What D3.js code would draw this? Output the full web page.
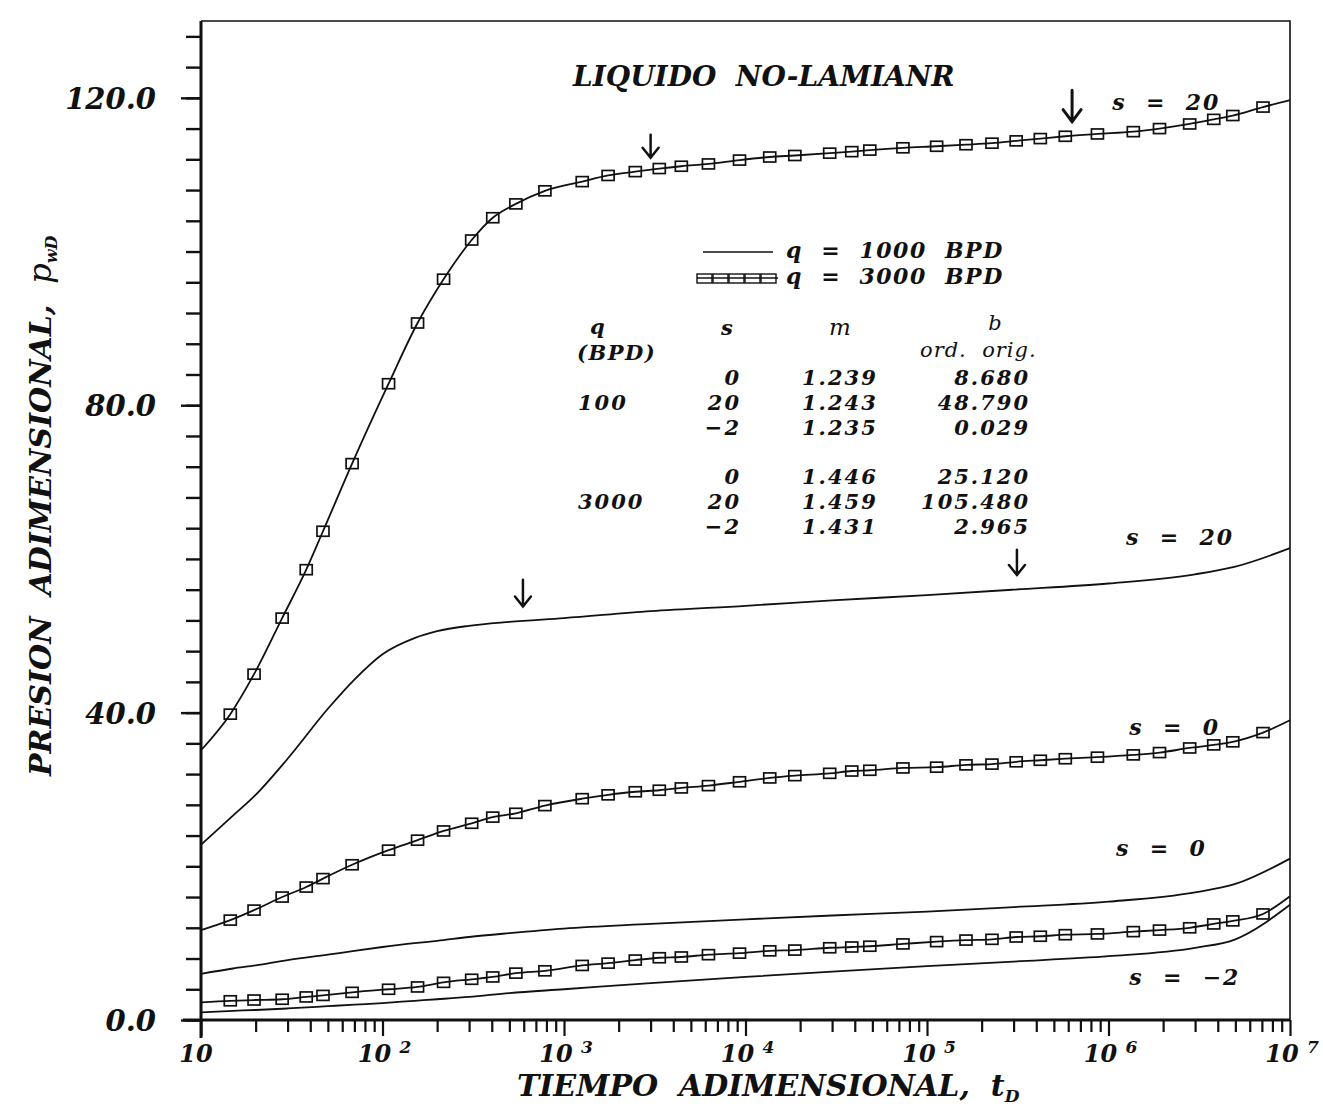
<!DOCTYPE html>
<html>
<head>
<meta charset="utf-8">
<script src="https://cdn.jsdelivr.net/npm/d3@7"></script>
<style>
  body { margin: 0; background: #fff; }
  svg text { font-family: "DejaVu Serif", "Liberation Serif", serif; font-style: italic; font-weight: bold; fill: #111; white-space: pre; }
</style>
</head>
<body>
<svg id="chart" width="1323" height="1106"></svg>
<script>
// Dimensionless time sampling for the q = 1000 BPD solid curves
const lineT = [10, 15, 20, 30, 50, 70, 100, 150, 200, 300, 500, 1e3, 3e3, 1e4, 3e4, 1e5, 3e5, 1e6, 3e6, 5e6, 1e7];
const q1000s20 = [22.8, 26.6, 29.3, 34.0, 40.5, 44.3, 47.6, 49.7, 50.6, 51.3, 51.8, 52.3, 53.2, 53.9, 54.6, 55.3, 56.0, 56.8, 58.0, 59.0, 61.4];
const q1000s0  = [6.0, 6.7, 7.1, 7.8, 8.5, 9.0, 9.5, 10.0, 10.3, 10.8, 11.3, 11.9, 12.5, 13.1, 13.6, 14.1, 14.7, 15.4, 16.6, 17.7, 21.0];
const q1000sm2 = [1.0, 1.2, 1.3, 1.5, 1.8, 2.0, 2.2, 2.5, 2.7, 3.0, 3.5, 4.0, 4.8, 5.6, 6.3, 7.0, 7.6, 8.3, 9.4, 10.5, 15.0];

// q = 3000 BPD curves: first and last entries are the curve ends (t = 10 and 1e7),
// every entry in between carries a square symbol.
const markT = [10, 14.5, 19.6, 28, 38, 47, 68, 108, 156, 217, 310, 405, 543, 785, 1260, 1750, 2470, 3350, 4430, 6250, 9270,
  13600, 18700, 29100, 38500, 48400, 73700, 113000, 164000, 228000, 310000, 421000, 578000, 869000,
  1370000, 1910000, 2800000, 3800000, 4840000, 7100000, 1e7];
const q3000s20 = [35.1, 39.8, 45.0, 52.3, 58.6, 63.6, 72.4, 82.8, 90.7, 96.4, 101.5, 104.4, 106.2, 107.9, 109.1, 109.9,
  110.4, 110.8, 111.1, 111.4, 111.9, 112.3, 112.5, 112.8, 113.0, 113.2, 113.5, 113.7, 113.9, 114.1, 114.4,
  114.7, 115.0, 115.3, 115.6, 116.0, 116.6, 117.2, 117.7, 118.8, 119.7];
const q3000s0 = [11.7, 13.0, 14.3, 16.0, 17.3, 18.4, 20.2, 22.1, 23.4, 24.6, 25.6, 26.4, 26.9, 27.9, 28.8, 29.3,
  29.7, 29.9, 30.2, 30.5, 31.0, 31.5, 31.8, 32.1, 32.4, 32.5, 32.8, 32.9, 33.2, 33.3, 33.6,
  33.8, 34.0, 34.2, 34.5, 34.8, 35.4, 35.8, 36.2, 37.4, 39.0];
const q3000sm2 = [2.3, 2.5, 2.6, 2.7, 3.0, 3.2, 3.6, 4.0, 4.3, 4.9, 5.3, 5.6, 6.1, 6.4, 7.1, 7.4,
  7.8, 8.1, 8.2, 8.5, 8.7, 9.0, 9.1, 9.4, 9.5, 9.6, 9.9, 10.2, 10.4, 10.5, 10.8,
  10.9, 11.1, 11.2, 11.5, 11.7, 12.0, 12.5, 12.9, 13.8, 16.1];

// Arrows marking the semilog straight-line portions
const arrowT   = [3000, 6.3e5, 594, 3.13e5];
const arrowTip = [112.2, 116.9, 53.8, 57.9];
const arrowTop = [115.2, 121.0, 57.3, 61.2];

// Skin labels at the right end of each curve pair
const skinLabels = ["s  =  20", "s  =  20", "s  =  0", "s  =  0", "s  =  \u22122"];
const skinLabelT = [1.05e6, 1.25e6, 1.3e6, 1.1e6, 1.3e6];
const skinLabelV = [118.4, 61.8, 37.1, 21.3, 4.6];

// Axis ticks
const yMajor = [0, 40, 80, 120];
const yMinor = d3.range(0, 130, 4);
const xDecades = [1e1, 1e2, 1e3, 1e4, 1e5, 1e6, 1e7];
const xExponents = ["", "2", "3", "4", "5", "6", "7"];

// Fitted straight-line table
const tableQ = ["100", "3000"];
const tableS = [["0", "20", "\u22122"], ["0", "20", "\u22122"]];
const tableM = [["1.239", "1.243", "1.235"], ["1.446", "1.459", "1.431"]];
const tableB = [["8.680", "48.790", "0.029"], ["25.120", "105.480", "2.965"]];

const svg = d3.select("#chart");
const x = d3.scaleLog().domain([10, 1e7]).range([201, 1290]);
const y = d3.scaleLinear().domain([0, 130]).range([1020, 21]);

// Frame (top and right)
svg.append("path")
  .attr("d", `M${x(10)},${y(130)}H${x(1e7)}V${y(0)}`)
  .attr("fill", "none").attr("stroke", "#111").attr("stroke-width", 1.6);

// Y axis: minor and major ticks
const yMinorAxis = d3.axisLeft(y).tickValues(yMinor).tickSize(15).tickFormat("");
const yMajorAxis = d3.axisLeft(y).tickValues(yMajor).tickSize(20).tickPadding(25).tickFormat(d3.format(".1f"));
const gyMin = svg.append("g").attr("transform", `translate(${x(10)},0)`).call(yMinorAxis);
const gyMaj = svg.append("g").attr("transform", `translate(${x(10)},0)`).call(yMajorAxis);
[gyMin, gyMaj].forEach(g => {
  g.select(".domain").remove();
  g.selectAll("line").attr("stroke", "#111").attr("stroke-width", 2.4);
});
gyMaj.selectAll("text").attr("font-size", 29).attr("dy", "0.36em")
  .style("font-family", '"DejaVu Serif", serif');
svg.append("line").attr("x1", x(10)).attr("x2", x(10)).attr("y1", y(130)).attr("y2", 1038)
  .attr("stroke", "#111").attr("stroke-width", 3);

// X axis: decade and intermediate ticks
const xMinorVals = [];
xDecades.slice(0, -1).forEach(d => { for (let k = 2; k <= 9; k++) xMinorVals.push(d * k); });
const gxMin = svg.append("g").attr("transform", `translate(0,${y(0)})`)
  .call(d3.axisBottom(x).tickValues(xMinorVals).tickSize(12).tickFormat(""));
const gxMaj = svg.append("g").attr("transform", `translate(0,${y(0)})`)
  .call(d3.axisBottom(x).tickValues(xDecades).tickSize(16).tickFormat(""));
[gxMin, gxMaj].forEach(g => {
  g.select(".domain").remove();
  g.selectAll("line").attr("stroke", "#111").attr("stroke-width", 2.2);
});
svg.append("line").attr("x1", 183).attr("x2", x(1e7)).attr("y1", y(0)).attr("y2", y(0))
  .attr("stroke", "#111").attr("stroke-width", 3);

// Decade labels as 10 with a raised exponent
xDecades.forEach((d, i) => {
  const t = svg.append("text").attr("x", x(d) + (i === 0 ? -5 : 2)).attr("y", 1062)
    .attr("text-anchor", "middle").attr("font-size", 24).text("10");
  if (xExponents[i]) {
    t.append("tspan").attr("font-size", 24).text(" ");
    t.append("tspan").attr("font-size", 17).attr("dy", -9).text(xExponents[i]);
  }
});

// Axis titles
const xt = svg.append("text").attr("x", 517).attr("y", 1096).attr("font-size", 30)
  .text("TIEMPO  ADIMENSIONAL,  ");
xt.append("tspan").attr("font-size", 30).text("t");
xt.append("tspan").attr("font-size", 17).attr("dy", 6).text("D");

const yt = svg.append("text").attr("transform", "translate(51,776) rotate(-90)").attr("font-size", 30)
  .text("PRESION  ADIMENSIONAL,  ");
yt.append("tspan").attr("font-size", 32).style("font-weight", "normal").text("p");
yt.append("tspan").attr("font-size", 16).attr("dy", 6).text("wD");

// Chart title
svg.append("text").attr("x", 573).attr("y", 86).attr("font-size", 28).text("LIQUIDO  NO-LAMIANR");

// Curves
const line = d3.line().x(d => x(d[0])).y(d => y(d[1])).curve(d3.curveMonotoneX);
const solidSeries = [q1000s20, q1000s0, q1000sm2];
solidSeries.forEach(vals => {
  svg.append("path").datum(lineT.map((t, i) => [t, vals[i]]))
    .attr("d", line).attr("fill", "none").attr("stroke", "#111").attr("stroke-width", 1.8);
});
const markSeries = [q3000s20, q3000s0, q3000sm2];
markSeries.forEach(vals => {
  const pts = markT.map((t, i) => [t, vals[i]]);
  svg.append("path").datum(pts)
    .attr("d", line).attr("fill", "none").attr("stroke", "#111").attr("stroke-width", 1.8);
  svg.append("g").selectAll("rect").data(pts.slice(1, -1)).join("rect")
    .attr("x", d => x(d[0]) - 6).attr("y", d => y(d[1]) - 5)
    .attr("width", 12).attr("height", 10)
    .attr("fill", "none").attr("stroke", "#111").attr("stroke-width", 1.7);
});

// Arrows
arrowT.forEach((t, i) => {
  const ax = x(t), y0 = y(arrowTop[i]), y1 = y(arrowTip[i]);
  const w = i === 1 ? 9 : 8, h = i === 1 ? 12 : 10;
  svg.append("path")
    .attr("d", `M${ax},${y0}V${y1}M${ax - w},${y1 - h}L${ax},${y1}L${ax + w},${y1 - h}`)
    .attr("fill", "none").attr("stroke", "#111").attr("stroke-width", i === 1 ? 3 : 2.5)
    .attr("stroke-linecap", "round").attr("stroke-linejoin", "miter");
});

// Skin labels
skinLabels.forEach((s, i) => {
  svg.append("text").attr("x", x(skinLabelT[i])).attr("y", y(skinLabelV[i]))
    .attr("font-size", 22).attr("letter-spacing", 2).text(s);
});

// Legend
svg.append("line").attr("x1", 703).attr("x2", 773).attr("y1", 252).attr("y2", 252)
  .attr("stroke", "#111").attr("stroke-width", 1.6);
svg.append("line").attr("x1", 697).attr("x2", 778).attr("y1", 278).attr("y2", 278)
  .attr("stroke", "#111").attr("stroke-width", 1.6);
svg.append("g").selectAll("rect").data(d3.range(5)).join("rect")
  .attr("x", i => 697 + i * 16).attr("y", 274).attr("width", 15).attr("height", 9)
  .attr("fill", "none").attr("stroke", "#111").attr("stroke-width", 1.4);
svg.append("text").attr("x", 786).attr("y", 258).attr("font-size", 22).attr("letter-spacing", 1.5)
  .text("q  =  1000  BPD");
svg.append("text").attr("x", 786).attr("y", 284).attr("font-size", 22).attr("letter-spacing", 1.5)
  .text("q  =  3000  BPD");

// Table of slopes and intercepts
const tfs = 21;
svg.append("text").attr("x", 590).attr("y", 334).attr("font-size", tfs).text("q");
svg.append("text").attr("x", 577).attr("y", 360).attr("font-size", tfs).attr("letter-spacing", 1.5).text("(BPD)");
svg.append("text").attr("x", 727).attr("y", 335).attr("font-size", tfs).attr("text-anchor", "middle").text("s");
svg.append("text").attr("x", 840).attr("y", 335).attr("font-size", tfs + 2).attr("text-anchor", "middle")
  .style("font-weight", "normal").text("m");
svg.append("text").attr("x", 995).attr("y", 330).attr("font-size", tfs).attr("text-anchor", "middle")
  .style("font-weight", "normal").text("b");
svg.append("text").attr("x", 920).attr("y", 357).attr("font-size", tfs).attr("letter-spacing", 1)
  .style("font-weight", "normal").text("ord.  orig.");

const rowY = [[385, 410, 435], [484, 509, 534]];
tableQ.forEach((q, g) => {
  svg.append("text").attr("x", 578).attr("y", rowY[g][1]).attr("font-size", tfs).attr("letter-spacing", 2).text(q);
  for (let r = 0; r < 3; r++) {
    svg.append("text").attr("x", 741).attr("y", rowY[g][r]).attr("font-size", tfs).attr("letter-spacing", 2)
      .attr("text-anchor", "end").text(tableS[g][r]);
    svg.append("text").attr("x", 802).attr("y", rowY[g][r]).attr("font-size", tfs).attr("letter-spacing", 2)
      .text(tableM[g][r]);
    svg.append("text").attr("x", 1030).attr("y", rowY[g][r]).attr("font-size", tfs).attr("letter-spacing", 2)
      .attr("text-anchor", "end").text(tableB[g][r]);
  }
});
</script>
</body>
</html>
